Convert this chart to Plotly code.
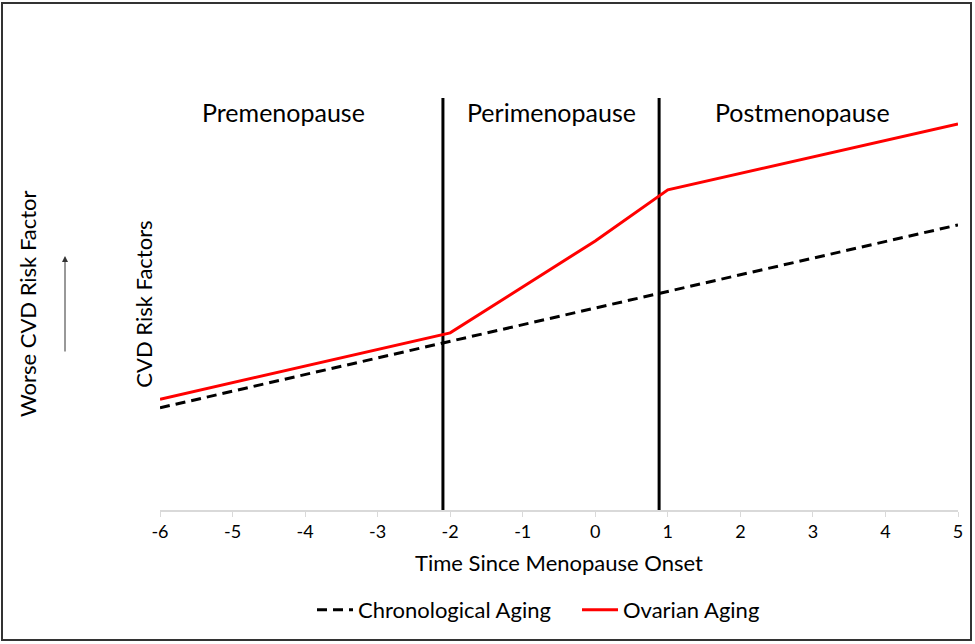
import plotly.graph_objects as go

# Data (y in arbitrary "risk" units, 0-10 scale)
chrono_x = [-6, 5]
chrono_y = [2.48, 6.92]
ovarian_x = [-6, -2, 0, 1, 5]
ovarian_y = [2.69, 4.30, 6.53, 7.77, 9.37]
stage_bounds = [-2.1, 0.88]
stage_labels = ["Premenopause", "Perimenopause", "Postmenopause"]
stage_label_x = [-4.3, -0.6, 2.85]
tick_vals = list(range(-6, 6))
tick_text = ["-6", "-5", "-4", "-3", "-2", "-1", "0", "1", "2", "3", "4", "5"]

FONT = "Lato"
W, H = 975, 644
L, R, T, B = 160, 17, 98, 134
pw, ph = W - L - R, H - T - B

def px_x(p):
    return (p - L) / pw

def px_y(p):
    return (H - B - p) / ph

fig = go.Figure()
fig.add_trace(go.Scatter(x=chrono_x, y=chrono_y, mode="lines", name="Chronological Aging",
                         line=dict(color="black", width=3, dash="10px,6px")))
fig.add_trace(go.Scatter(x=ovarian_x, y=ovarian_y, mode="lines", name="Ovarian Aging",
                         line=dict(color="#ff0000", width=3)))

shapes = []
for b in stage_bounds:
    shapes.append(dict(type="line", xref="x", yref="y", x0=b, x1=b, y0=0, y1=10,
                       line=dict(color="black", width=3), layer="below"))
shapes.append(dict(type="rect", xref="paper", yref="paper",
                   x0=px_x(2), x1=px_x(971), y0=px_y(640), y1=px_y(3),
                   line=dict(color="#333333", width=2)))

annotations = []
for lab, lx in zip(stage_labels, stage_label_x):
    annotations.append(dict(x=lx, y=9.66, xref="x", yref="y", text=lab, showarrow=False,
                            font=dict(family=FONT, size=25, color="black")))
annotations.append(dict(x=px_x(27), y=px_y(304), xref="paper", yref="paper",
                        xanchor="center", yanchor="middle",
                        text="Worse CVD Risk Factor", textangle=-90, showarrow=False,
                        font=dict(family=FONT, size=22, color="black")))
annotations.append(dict(x=px_x(65), y=px_y(256), xref="paper", yref="paper", text="",
                        showarrow=True, ax=0, ay=97, arrowhead=2, arrowsize=1.2,
                        arrowwidth=1, arrowcolor="#333333", axref="pixel", ayref="pixel"))

fig.update_layout(
    width=W, height=H,
    margin=dict(l=L, r=R, t=T, b=B),
    paper_bgcolor="white", plot_bgcolor="white",
    font=dict(family=FONT, color="black"),
    showlegend=True,
    legend=dict(orientation="h", x=px_x(312), xanchor="left", y=px_y(610), yanchor="middle",
                font=dict(family=FONT, size=22, color="black"), itemwidth=36,
                entrywidth=214, tracegroupgap=0),
    xaxis=dict(range=[-6, 5], tickvals=tick_vals, ticktext=tick_text,
               showgrid=False, zeroline=False,
               showline=True, linecolor="#d9d9d9", linewidth=1.5,
               ticks="outside", ticklen=5, tickcolor="#d9d9d9",
               tickfont=dict(family=FONT, size=18, color="black"),
               title=dict(text="Time Since Menopause Onset", standoff=14,
                          font=dict(family=FONT, size=22, color="black"))),
    yaxis=dict(range=[0, 10], showgrid=False, zeroline=False, showticklabels=False,
               showline=False, ticks="",
               title=dict(text="CVD Risk Factors", standoff=0,
                          font=dict(family=FONT, size=22, color="black"))),
    shapes=shapes, annotations=annotations,
)

fig.write_html("out.html", config={"displayModeBar": False},
               post_script="document.body.style.margin='0';document.body.style.padding='0';")
